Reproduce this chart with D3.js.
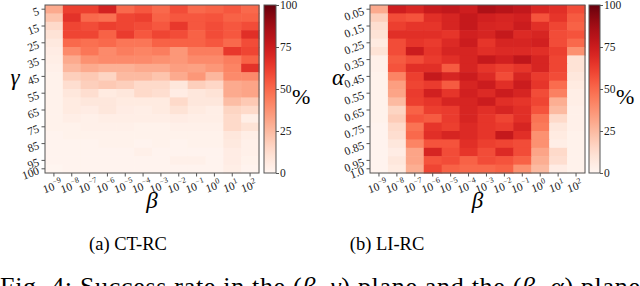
<!DOCTYPE html>
<html>
<head>
<meta charset="utf-8">
<script src="https://cdn.jsdelivr.net/npm/d3@7"></script>
<style>
    body { margin: 0; background: #fff; }
    svg { display: block; }
    svg text { font-family: 'Liberation Serif', 'DejaVu Serif', serif !important; }
</style>
</head>
<body>
<svg id="chart" width="640" height="286"></svg>
<script>
//  Data
const betaExp = [-9, -8, -7, -6, -5, -4, -3, -2, -1, 0, 1, 2];

const gammaRows = [5, 10, 15, 20, 25, 30, 35, 40, 45, 50, 55, 60, 65, 70, 75, 80, 85, 90, 95, 100];
const gammaTicks = [5, 15, 25, 35, 45, 55, 65, 75, 85, 95, 100];

const alphaRows = ['0.05', '0.10', '0.15', '0.20', '0.25', '0.30', '0.35', '0.40', '0.45', '0.50',
                   '0.55', '0.60', '0.65', '0.70', '0.75', '0.80', '0.85', '0.90', '0.95', '1.0'];
const alphaTicks = ['0.05', '0.15', '0.25', '0.35', '0.45', '0.55', '0.65', '0.75', '0.85', '0.95', '1.0'];

const colorbarTicks = [0, 25, 50, 75, 100];

//  success rate (%) per gamma row, columns follow betaExp
const ctrcRates = [
    [30, 62, 62, 72, 50, 55, 50, 58, 50, 52, 55, 50],
    [22, 66, 50, 48, 60, 62, 52, 55, 55, 56, 52, 52],
    [14, 60, 58, 62, 60, 58, 55, 64, 55, 58, 55, 58],
    [10, 60, 60, 52, 63, 55, 60, 58, 52, 58, 55, 67],
    [ 7, 50, 48, 50, 46, 46, 52, 52, 52, 55, 50, 58],
    [ 5, 40, 46, 40, 44, 42, 44, 36, 44, 44, 64, 60],
    [ 4, 30, 38, 40, 40, 40, 38, 36, 40, 40, 44, 52],
    [ 3, 26, 30, 28, 28, 30, 30, 34, 33, 36, 42, 66],
    [ 2, 18, 20, 16, 25, 25, 22, 30, 36, 26, 40, 40],
    [ 2, 12, 18, 20, 18, 14, 14,  8, 18, 15, 30, 32],
    [ 2,  8, 12,  6,  8, 14, 12,  5,  8, 10, 30, 32],
    [ 2,  6,  8,  8,  6,  6,  6, 14,  8,  8, 24, 20],
    [ 2,  6,  5,  8,  5,  4,  6, 10,  6,  4, 16, 14],
    [ 2,  4,  3,  4,  4,  4,  4,  5,  4,  4, 14,  4],
    [ 2,  2,  3,  3,  3,  2,  2,  3,  3,  3, 14, 10],
    [ 1,  2,  2,  2,  2,  2,  2,  2,  2,  2,  8,  4],
    [ 1,  1,  1,  2,  2,  1,  2,  1,  2,  2,  7,  3],
    [ 1,  1,  1,  1,  1,  3,  1,  1,  1,  1,  5,  3],
    [ 1,  1,  1,  1,  1,  1,  1,  3,  3,  1,  5,  2],
    [ 0,  1,  1,  1,  1,  1,  1,  1,  1,  1,  4,  1]
];

//  success rate (%) per alpha row, columns follow betaExp
const lircRates = [
    [30, 74, 70, 76, 78, 74, 84, 81, 78, 70, 67, 58],
    [18, 58, 56, 67, 71, 77, 73, 71, 73, 56, 65, 54],
    [12, 62, 65, 65, 71, 77, 71, 70, 75, 67, 60, 52],
    [10, 67, 67, 67, 65, 73, 71, 77, 69, 71, 58, 56],
    [ 6, 58, 65, 63, 69, 75, 65, 71, 71, 73, 58, 50],
    [10, 58, 75, 65, 71, 71, 67, 69, 69, 67, 62, 38],
    [ 3, 54, 58, 63, 67, 71, 77, 73, 79, 71, 60, 10],
    [ 3, 56, 67, 67, 54, 71, 65, 62, 65, 71, 60, 10],
    [ 2, 42, 62, 77, 71, 75, 69, 58, 71, 63, 58,  8],
    [ 2, 34, 60, 63, 54, 71, 75, 67, 75, 65, 49,  6],
    [ 2, 32, 63, 73, 65, 73, 69, 75, 71, 58, 43,  4],
    [ 2, 25, 62, 65, 71, 71, 75, 67, 65, 60, 29,  4],
    [ 2, 16, 52, 62, 63, 71, 67, 71, 67, 56, 25,  3],
    [ 2, 19, 56, 54, 63, 71, 65, 60, 67, 47, 14,  3],
    [ 1, 14, 47, 65, 62, 69, 65, 63, 71, 45,  8,  3],
    [ 1, 12, 50, 67, 71, 69, 65, 77, 67, 38,  6,  2],
    [ 1,  8, 42, 56, 56, 67, 62, 60, 58, 38,  4,  2],
    [ 1,  5, 32, 71, 58, 65, 58, 69, 58, 32, 14,  2],
    [ 1,  8, 32, 56, 58, 52, 58, 56, 52, 29, 12,  2],
    [ 1,  6, 29, 60, 52, 50, 50, 52, 38, 25,  5,  2]
];


const svg = d3.select('#chart');
const color = d3.scaleSequential(d3.interpolateReds).domain([0, 100]);
const axisColor = '#555';

//  Colorbar gradient, shared by both panels
const grad = svg.append('defs').append('linearGradient')
    .attr('id', 'redsGrad')
    .attr('x1', 0).attr('y1', 1).attr('x2', 0).attr('y2', 0);
d3.range(0, 1.0001, 0.05).forEach(t => {
    grad.append('stop')
        .attr('offset', t)
        .attr('stop-color', d3.interpolateReds(t));
});


function drawPanel(p) {
    const g = svg.append('g');

    const x = d3.scaleBand().domain(betaExp).range([p.left, p.right]);
    const y = d3.scaleBand().domain(p.rows).range([p.top, p.bottom]);

    //  Cells
    p.rates.forEach((row, i) => {
        g.append('g').selectAll('rect')
            .data(row)
            .enter()
            .append('rect')
            .attr('x', (d, j) => x(betaExp[j]))
            .attr('y', y(p.rows[i]))
            .attr('width', x.bandwidth() + 0.6)
            .attr('height', y.bandwidth() + 0.6)
            .attr('fill', d => color(d));
    });

    g.append('rect')
        .attr('x', p.left).attr('y', p.top)
        .attr('width', p.right - p.left).attr('height', p.bottom - p.top)
        .attr('fill', 'none').attr('stroke', axisColor).attr('stroke-width', 1);

    //  Y axis
    const yAxis = d3.axisLeft(y).tickValues(p.ticks).tickSize(3.5).tickSizeOuter(0);
    const yG = g.append('g')
        .attr('transform', `translate(${p.left},0)`)
        .call(yAxis)
        .attr('font-family', null);
    yG.select('.domain').remove();
    yG.selectAll('line').attr('stroke', axisColor);
    yG.selectAll('text')
        .attr('x', null).attr('dy', null)
        .attr('fill', '#222')
        .style('font-size', '11.5px')
        .attr('text-anchor', 'end')
        .attr('transform', 'translate(-5,5) rotate(-20)');

    //  X axis, labels as powers of ten
    const xAxis = d3.axisBottom(x).tickSize(3.5).tickSizeOuter(0).tickFormat('');
    const xG = g.append('g')
        .attr('transform', `translate(0,${p.bottom})`)
        .call(xAxis)
        .attr('font-family', null);
    xG.select('.domain').remove();
    xG.selectAll('line').attr('stroke', axisColor);
    xG.selectAll('.tick').each(function(d) {
        const t = d3.select(this).append('text')
            .attr('fill', '#222')
            .attr('text-anchor', 'middle')
            .attr('transform', 'translate(0,17) rotate(-20)')
            .style('font-size', '11.5px');
        t.append('tspan').text('10');
        t.append('tspan')
            .attr('dy', -5)
            .style('font-size', '8px')
            .text(d < 0 ? `\u2212${-d}` : d);
    });

    g.append('text')
        .attr('x', (p.left + p.right) / 2)
        .attr('y', 208)
        .attr('text-anchor', 'middle')
        .style('font-size', '23px')
        .style('font-style', 'italic')
        .text('\u03b2');

    g.append('text')
        .attr('x', p.yLabelX)
        .attr('y', 85)
        .attr('text-anchor', 'middle')
        .style('font-size', '23px')
        .style('font-style', 'italic')
        .text(p.yLabel);

    //  Colorbar
    const cbY = d3.scaleLinear().domain([0, 100]).range([p.bottom, p.top]);
    g.append('rect')
        .attr('x', p.cbLeft).attr('y', p.top)
        .attr('width', p.cbWidth).attr('height', p.bottom - p.top)
        .attr('fill', 'url(#redsGrad)')
        .attr('stroke', axisColor).attr('stroke-width', 1);

    const cbG = g.append('g')
        .attr('transform', `translate(${p.cbLeft + p.cbWidth},0)`)
        .call(d3.axisRight(cbY).tickValues(colorbarTicks).tickSize(3).tickPadding(1))
        .attr('font-family', null);
    cbG.select('.domain').remove();
    cbG.selectAll('line').attr('stroke', axisColor);
    cbG.selectAll('text').attr('fill', '#222').style('font-size', '11.5px');

    g.append('text')
        .attr('x', p.cbLeft + p.cbWidth + 16)
        .attr('y', 104)
        .style('font-size', '22px')
        .text('%');

    //  Caption
    g.append('text')
        .attr('x', p.captionX)
        .attr('y', 250)
        .attr('text-anchor', 'middle')
        .style('font-size', '18.5px')
        .text(p.caption);
}


drawPanel({
    left: 45, right: 259, top: 5, bottom: 173,
    rows: gammaRows, ticks: gammaTicks, rates: ctrcRates,
    yLabel: '\u03b3', yLabelX: 15,
    cbLeft: 264, cbWidth: 12,
    caption: '(a) CT-RC', captionX: 128
});

drawPanel({
    left: 370, right: 585, top: 5, bottom: 173,
    rows: alphaRows, ticks: alphaTicks, rates: lircRates,
    yLabel: '\u03b1', yLabelX: 338,
    cbLeft: 589, cbWidth: 11,
    caption: '(b) LI-RC', captionX: 387
});

//  Figure caption, partly cut by the bottom edge as in the source
const fig = svg.append('text')
    .attr('x', 0)
    .attr('y', 295)
    .attr('textLength', 640)
    .attr('lengthAdjust', 'spacing')
    .style('font-size', '26px');
fig.append('tspan').text('Fig. 4: Success rate in the (');
fig.append('tspan').style('font-style', 'italic').text('\u03b2');
fig.append('tspan').text(', ');
fig.append('tspan').style('font-style', 'italic').text('\u03b3');
fig.append('tspan').text(') plane and the (');
fig.append('tspan').style('font-style', 'italic').text('\u03b2');
fig.append('tspan').text(', ');
fig.append('tspan').style('font-style', 'italic').text('\u03b1');
fig.append('tspan').text(') plane');
</script>
</body>
</html>
